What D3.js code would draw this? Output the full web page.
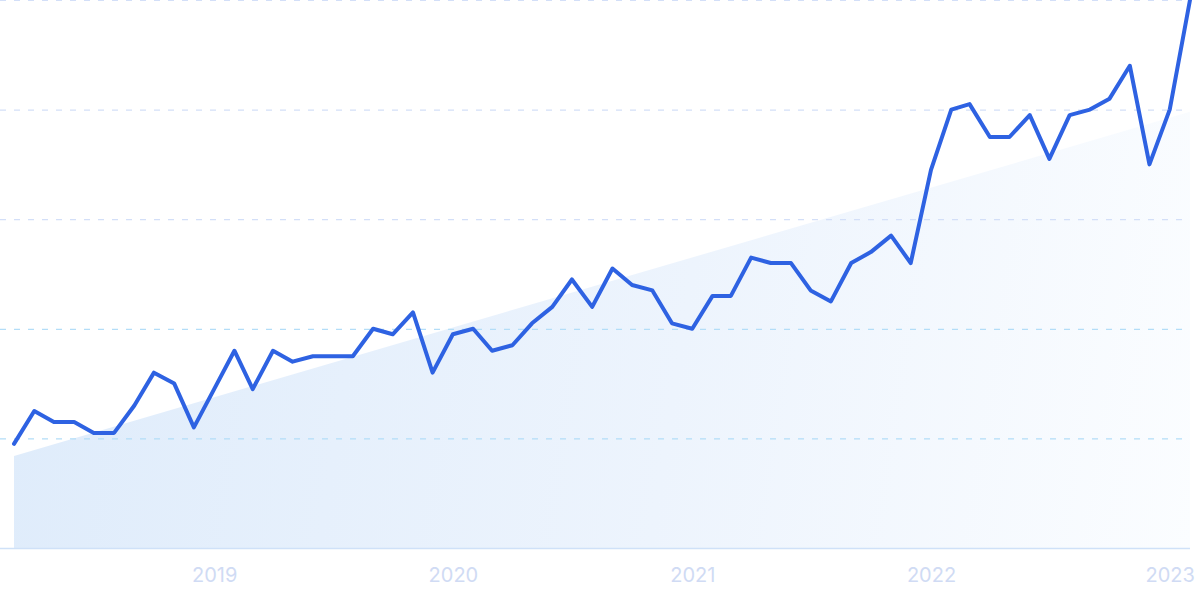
<!DOCTYPE html>
<html>
<head>
<meta charset="utf-8">
<script src="https://cdn.jsdelivr.net/npm/d3@7"></script>
<style>
  html, body { margin: 0; padding: 0; background: #fff; }
  svg { display: block; }
  .tick text { font-family: Inter, "Noto Sans", sans-serif; }
</style>
</head>
<body>
<svg id="chart" width="1200" height="600"></svg>
<script>
// ---- Data (monthly, Mar 2018 – Feb 2023) ----
const startMonth = "2018-03";
const values = [19,25,23,23,21,21,26,32,30,22,29,36,29,36,34,35,35,35,40,39,
                43,32,39,40,36,37,41,44,49,44,51,48,47,41,40,46,46,53,52,52,
                47,45,52,54,57,52,69,80,81,75,75,79,71,79,80,82,88,70,80,100];
const trendValues = [16.8, 79.6];           // trend line start / end values
const yTicks = [0, 20, 40, 60, 80, 100];
const xTickLabels = ["2019", "2020", "2021", "2022", "2023"];

// ---- Setup ----
const W = 1200, H = 600;
const svg = d3.select("#chart");
const parse = d3.timeParse("%Y-%m");
const d0 = parse(startMonth);
const data = values.map((v, i) => ({ date: d3.timeMonth.offset(d0, i), value: v }));
const lastDate = data[data.length - 1].date;

const x = d3.scaleTime().domain([d0, lastDate]).range([14, 1190]);
const y = d3.scaleLinear().domain([0, 100]).range([548, 0]);

// gradient for trend area
const defs = svg.append("defs");
const grad = defs.append("linearGradient")
  .attr("id", "trendGrad")
  .attr("gradientUnits", "userSpaceOnUse")
  .attr("x1", 14).attr("y1", 380).attr("x2", 1190).attr("y2", 560);
grad.append("stop").attr("offset", "0%").attr("stop-color", "#dfecfb");
grad.append("stop").attr("offset", "55%").attr("stop-color", "#edf4fd");
grad.append("stop").attr("offset", "100%").attr("stop-color", "#fbfdff");

// trend area
const trendData = [
  { date: d0, value: trendValues[0] },
  { date: lastDate, value: trendValues[1] }
];
svg.append("path")
  .datum(trendData)
  .attr("fill", "url(#trendGrad)")
  .attr("d", d3.area().x(d => x(d.date)).y0(y(0)).y1(d => y(d.value)));

// gridlines
svg.append("g")
  .selectAll("line")
  .data(yTicks.filter(t => t > 0))
  .join("line")
  .attr("x1", 0).attr("x2", 1190)
  .attr("y1", d => y(d) + 0.5).attr("y2", d => y(d) + 0.5)
  .attr("stroke", d => d <= 40 ? "#b3ddf8" : "#d3dff8")
  .attr("stroke-width", 1.2)
  .attr("stroke-dasharray", "6,8");

// baseline
svg.append("line")
  .attr("x1", 0).attr("x2", 1190)
  .attr("y1", y(0) + 0.5).attr("y2", y(0) + 0.5)
  .attr("stroke", "#cfe1f8").attr("stroke-width", 1.5);

// line
svg.append("path")
  .datum(data)
  .attr("fill", "none")
  .attr("stroke", "#2e62e2")
  .attr("stroke-width", 4)
  .attr("stroke-linejoin", "round")
  .attr("stroke-linecap", "round")
  .attr("d", d3.line().x(d => x(d.date)).y(d => y(d.value)));

// x axis
const tickDates = xTickLabels.map(s => d3.timeParse("%Y")(s));
const xAxis = d3.axisBottom(x)
  .tickValues(tickDates)
  .tickFormat(d3.timeFormat("%Y"))
  .tickSize(0)
  .tickPadding(0);
const gx = svg.append("g").attr("transform", "translate(0,567)").call(xAxis);
gx.select(".domain").remove();
gx.selectAll("text")
  .attr("fill", "#d0dbf4")
  .attr("font-size", 20)
  .attr("dy", "0.75em")
  .style("font-family", "Inter, 'Noto Sans', sans-serif");
</script>
</body>
</html>
